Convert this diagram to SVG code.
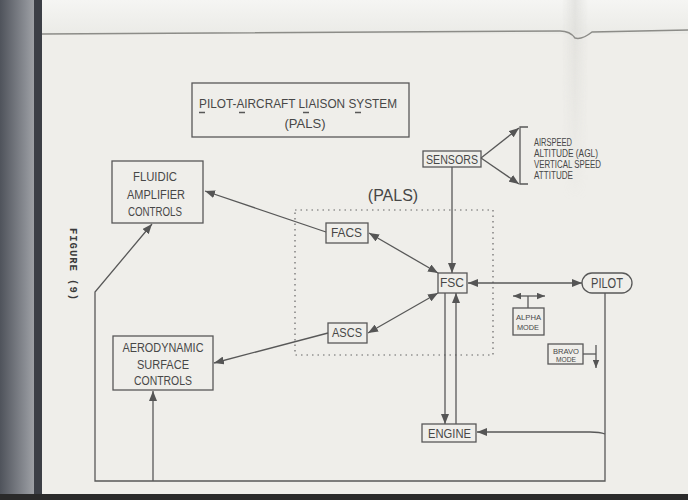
<svg xmlns="http://www.w3.org/2000/svg" width="688" height="500" viewBox="0 0 688 500">
<style>
.ln{fill:none;stroke:#585858;stroke-width:1.3}
.bx{fill:none;stroke:#585858;stroke-width:1.3}
.t{font-family:"Liberation Sans",Arial,sans-serif;fill:#474747}
.m{font-family:"Liberation Mono","Courier New",monospace;fill:#3a3a3a;font-weight:bold}
</style>
<defs>
<marker id="ah" viewBox="0 0 10 8" refX="10" refY="4" markerWidth="10" markerHeight="8" markerUnits="userSpaceOnUse" orient="auto-start-reverse">
<path d="M0,0 L10,4 L0,8 z" fill="#555"/>
</marker>
<marker id="ahs" viewBox="0 0 10 8" refX="10" refY="4" markerWidth="8" markerHeight="7" markerUnits="userSpaceOnUse" orient="auto-start-reverse">
<path d="M0,0 L10,4 L0,8 z" fill="#555"/>
</marker>
<linearGradient id="lstrip" x1="0" y1="0" x2="1" y2="0">
<stop offset="0" stop-color="#4f535b"/>
<stop offset="0.75" stop-color="#8d9096"/>
<stop offset="1" stop-color="#a3a5a9"/>
</linearGradient>
<linearGradient id="top" x1="0" y1="0" x2="0" y2="1">
<stop offset="0" stop-color="#f5f5f3"/>
<stop offset="1" stop-color="#ebebe7"/>
</linearGradient>
<linearGradient id="fold" x1="0" y1="0" x2="1" y2="0">
<stop offset="0" stop-color="#d4d4d0" stop-opacity="0"/>
<stop offset="0.5" stop-color="#d4d4d0" stop-opacity="0.5"/>
<stop offset="1" stop-color="#d4d4d0" stop-opacity="0"/>
</linearGradient>
<linearGradient id="foldv" x1="0" y1="0" x2="0" y2="1">
<stop offset="0" stop-color="#fff" stop-opacity="1"/>
<stop offset="1" stop-color="#fff" stop-opacity="0"/>
</linearGradient>
<mask id="fm"><rect x="560" y="0" width="30" height="200" fill="url(#foldv)"/></mask>
</defs>

<!-- page background -->
<rect x="0" y="0" width="688" height="500" fill="#efeeea"/>
<rect x="42" y="0" width="646" height="34" fill="url(#top)"/>
<rect x="562" y="0" width="26" height="200" fill="url(#fold)" mask="url(#fm)"/>
<path d="M42,34 L560,31 Q570,31 575,38 Q582,40 592,32 L688,30" fill="none" stroke="#8c8c88" stroke-width="1.5"/>
<rect x="0" y="0" width="36" height="500" fill="url(#lstrip)"/>
<rect x="34" y="0" width="8" height="500" fill="#3c3f46"/>
<rect x="0" y="494" width="688" height="6" fill="#2a2a2a"/>

<!-- title -->
<g id="title">
<rect class="bx" x="192" y="83" width="217" height="54"/>
<text class="t" x="199" y="108" font-size="13" textLength="198" lengthAdjust="spacingAndGlyphs">PILOT-AIRCRAFT LIAISON SYSTEM</text>
<text class="t" x="305" y="128" font-size="13" text-anchor="middle">(PALS)</text>
<path class="ln" d="M199,112.5 h6 M239,112.5 h6 M303,112.5 h6 M355,112.5 h6" stroke-width="1.2"/>
</g>

<g id="figure-label">
<text class="m" x="0" y="0" font-size="10.5" letter-spacing="1" transform="translate(70,228) rotate(90)">FIGURE (9)</text>
</g>

<!-- PALS boundary -->
<g id="pals">
<rect x="295" y="210" width="198" height="145" fill="none" stroke="#666" stroke-width="1.2" stroke-dasharray="1.5,4"/>
<text class="t" x="393" y="201" font-size="16" text-anchor="middle">(PALS)</text>
</g>

<g id="sensors">
<rect class="bx" x="423" y="151" width="58" height="16"/>
<text class="t" x="426" y="164" font-size="12" textLength="52" lengthAdjust="spacingAndGlyphs">SENSORS</text>
</g>

<g id="sensor-list">
<text class="t" x="534" y="146" font-size="10" textLength="38" lengthAdjust="spacingAndGlyphs">AIRSPEED</text>
<text class="t" x="534" y="157" font-size="10" textLength="64" lengthAdjust="spacingAndGlyphs">ALTITUDE (AGL)</text>
<text class="t" x="534" y="168" font-size="10" textLength="67" lengthAdjust="spacingAndGlyphs">VERTICAL SPEED</text>
<text class="t" x="534" y="178.5" font-size="10" textLength="39" lengthAdjust="spacingAndGlyphs">ATTITUDE</text>
</g>

<g id="fluidic">
<rect class="bx" x="112" y="161" width="91" height="62"/>
<text class="t" x="155" y="181" font-size="12" text-anchor="middle" textLength="44" lengthAdjust="spacingAndGlyphs">FLUIDIC</text>
<text class="t" x="156" y="199" font-size="12" text-anchor="middle" textLength="58" lengthAdjust="spacingAndGlyphs">AMPLIFIER</text>
<text class="t" x="155" y="216" font-size="12" text-anchor="middle" textLength="54" lengthAdjust="spacingAndGlyphs">CONTROLS</text>
</g>

<g id="facs">
<rect class="bx" x="326" y="223" width="42" height="20"/>
<text class="t" x="331" y="237" font-size="12" textLength="31" lengthAdjust="spacingAndGlyphs">FACS</text>
</g>

<g id="fsc">
<rect class="bx" x="438" y="273" width="29" height="20"/>
<text class="t" x="440" y="287" font-size="12" textLength="24" lengthAdjust="spacingAndGlyphs">FSC</text>
</g>

<g id="ascs">
<rect class="bx" x="328" y="323" width="39" height="20"/>
<text class="t" x="332" y="337" font-size="12" textLength="30" lengthAdjust="spacingAndGlyphs">ASCS</text>
</g>

<g id="aero">
<rect class="bx" x="113" y="336" width="100" height="54"/>
<text class="t" x="163" y="352" font-size="12" text-anchor="middle" textLength="81" lengthAdjust="spacingAndGlyphs">AERODYNAMIC</text>
<text class="t" x="163" y="369" font-size="12" text-anchor="middle" textLength="52" lengthAdjust="spacingAndGlyphs">SURFACE</text>
<text class="t" x="163" y="385" font-size="12" text-anchor="middle" textLength="58" lengthAdjust="spacingAndGlyphs">CONTROLS</text>
</g>

<g id="pilot">
<rect class="bx" x="582" y="273" width="50" height="20" rx="10"/>
<text class="t" x="591" y="288" font-size="14" textLength="32" lengthAdjust="spacingAndGlyphs">PILOT</text>
</g>

<g id="alpha">
<rect class="bx" x="513" y="308" width="31" height="27"/>
<text class="t" x="516" y="320" font-size="8" textLength="25" lengthAdjust="spacingAndGlyphs">ALPHA</text>
<text class="t" x="517" y="330" font-size="8" textLength="22" lengthAdjust="spacingAndGlyphs">MODE</text>
</g>

<g id="bravo">
<rect class="bx" x="548" y="344" width="35" height="20"/>
<text class="t" x="553" y="353.5" font-size="7.5" textLength="26" lengthAdjust="spacingAndGlyphs">BRAVO</text>
<text class="t" x="556" y="362" font-size="7.5" textLength="20" lengthAdjust="spacingAndGlyphs">MODE</text>
</g>

<g id="engine">
<rect class="bx" x="422" y="424" width="54" height="18"/>
<text class="t" x="428" y="438" font-size="12" textLength="43" lengthAdjust="spacingAndGlyphs">ENGINE</text>
</g>

<g id="connectors">
<line class="ln" x1="452" y1="167" x2="452" y2="273" marker-end="url(#ah)"/>
<line class="ln" x1="481" y1="158" x2="519" y2="128" marker-end="url(#ah)"/>
<line class="ln" x1="481" y1="158" x2="519" y2="184" marker-end="url(#ah)"/>
<path class="ln" d="M528,127 H520 V184 H528"/>
<line class="ln" x1="326" y1="232" x2="205" y2="191" marker-end="url(#ah)"/>
<line class="ln" x1="369" y1="233" x2="438" y2="273" marker-start="url(#ah)" marker-end="url(#ah)"/>
<line class="ln" x1="368" y1="333" x2="438" y2="293" marker-start="url(#ah)" marker-end="url(#ah)"/>
<line class="ln" x1="328" y1="333" x2="214" y2="363" marker-end="url(#ah)"/>
<line class="ln" x1="468" y1="283" x2="582" y2="283" marker-start="url(#ah)" marker-end="url(#ah)"/>
<line class="ln" x1="445" y1="293" x2="445" y2="424" marker-end="url(#ah)"/>
<line class="ln" x1="456" y1="424" x2="456" y2="293" marker-end="url(#ah)"/>
<path class="ln" d="M605,293 V481 H95 V292 L152,224" marker-end="url(#ah)"/>
<line class="ln" x1="153" y1="481" x2="153" y2="391" marker-end="url(#ah)"/>
<path class="ln" d="M605,434 Q600,432 590,432 H477" marker-end="url(#ah)"/>
<line class="ln" x1="528" y1="308" x2="528" y2="296"/>
<line class="ln" x1="513" y1="296" x2="545" y2="296" marker-start="url(#ahs)" marker-end="url(#ahs)"/>
<line class="ln" x1="583" y1="354" x2="596" y2="354"/>
<line class="ln" x1="596" y1="345" x2="596" y2="368" marker-end="url(#ahs)"/>
</g>
</svg>
